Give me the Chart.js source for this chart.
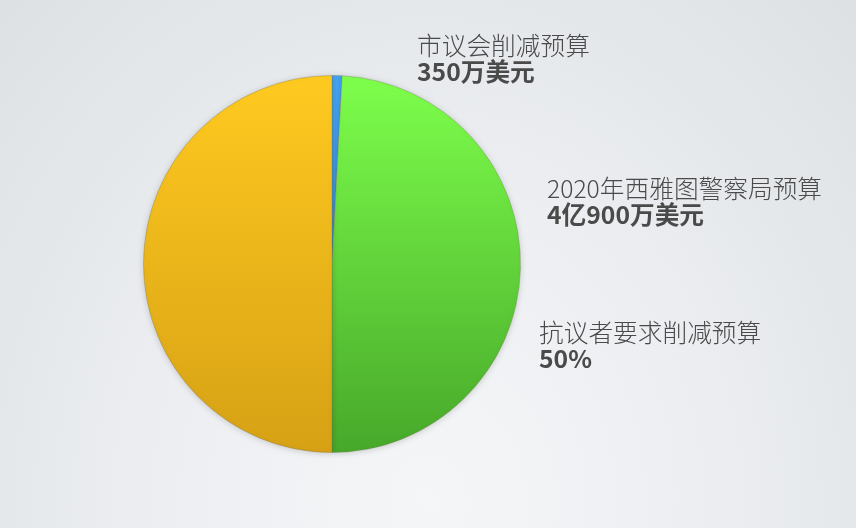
<!DOCTYPE html>
<html>
<head>
<meta charset="utf-8">
<script src="https://cdn.jsdelivr.net/npm/chart.js@4"></script>
<style>
  html, body { margin: 0; padding: 0; }
  body {
    width: 856px; height: 528px; overflow: hidden;
    background: radial-gradient(ellipse at 50% 95%, #f5f6f8 0%, #eceef1 45%, #dde1e4 100%);
  }
  #wrap { position: relative; width: 856px; height: 528px; }
</style>
</head>
<body>
<div id="wrap"><canvas id="pie" width="856" height="528"></canvas></div>
<script>
// slices, in millions of dollars (total budget 409M)
var sliceNames = ["市议会削减预算", "2020年西雅图警察局预算", "抗议者要求削减预算"];
var sliceValues = [3.5, 201, 204.5];
var topColors = ["#46a6f5", "#7eff4c", "#ffca20"];
var bottomColors = ["#2f86d6", "#47a82a", "#d6a114"];

// label text (title line + bold value line)
var labelTitles = ["市议会削减预算", "2020年西雅图警察局预算", "抗议者要求削减预算"];
var labelValues = ["350万美元", "4亿900万美元", "50%"];
var labelPos = [[417, 55], [547, 198], [539, 342]];

function sliceFill(ctx){
	var chart = ctx.chart;
	var area = chart.chartArea;
	if(!area) return topColors[ctx.dataIndex];
	var g = chart.ctx.createLinearGradient(0, area.top, 0, area.bottom);
	g.addColorStop(0, topColors[ctx.dataIndex]);
	g.addColorStop(1, bottomColors[ctx.dataIndex]);
	return g;
}

var labelPlugin = {
	id: "sliceLabels",
	afterDraw: function(chart){
		var c = chart.ctx;
		c.save();
		c.textBaseline = "alphabetic";
		c.textAlign = "left";
		for(var i=0; i<labelTitles.length; ++i){
			var x = labelPos[i][0], y = labelPos[i][1];
			c.fillStyle = "#4a4a4a";
			c.font = "300 24.7px 'Noto Sans CJK SC'";
			c.fillText(labelTitles[i], x, y);
			c.font = "bold 24.7px 'Noto Sans CJK SC'";
			c.fillText(labelValues[i], x, y + 26);
		}
		c.restore();
	}
};

var shadowPlugin = {
	id: "pieShadow",
	beforeDatasetsDraw: function(chart){
		chart.ctx.save();
		chart.ctx.shadowColor = "rgba(0,0,0,0.18)";
		chart.ctx.shadowBlur = 6;
		chart.ctx.shadowOffsetY = 1;
	},
	afterDatasetsDraw: function(chart){
		chart.ctx.restore();
	}
};

new Chart(document.getElementById("pie"), {
	type: "pie",
	data: {
		labels: sliceNames,
		datasets: [{
			data: sliceValues,
			backgroundColor: sliceFill,
			borderColor: "rgba(120,120,90,0.35)",
			borderWidth: 1
		}]
	},
	options: {
		responsive: false,
		animation: false,
		layout: { padding: { left: 143, right: 335, top: 75, bottom: 75 } },
		plugins: {
			legend: { display: false },
			tooltip: { enabled: false }
		}
	},
	plugins: [shadowPlugin, labelPlugin]
});
</script>
</body>
</html>
